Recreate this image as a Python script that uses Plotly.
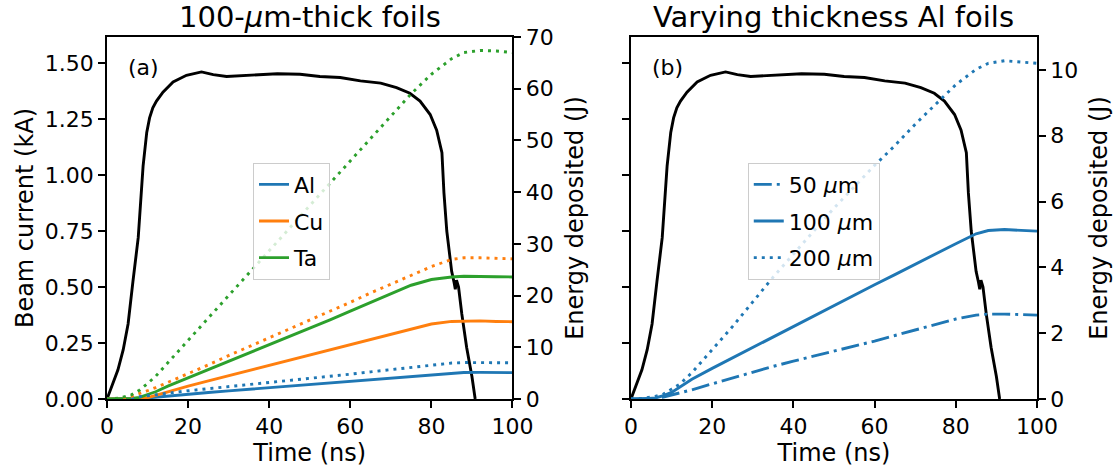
import plotly.graph_objects as go

# ---------------- data ----------------
# Beam current (kA) vs time (ns)
t_beam = [0, 1.5, 2.7, 4.0, 5.2, 6.4, 7.7, 8.9, 9.8, 10.5, 11.3, 12.2, 13.8, 16.3, 19.6, 23.3,
          24.5, 26.2, 29.5, 35.0, 42.0, 47.6, 52.5, 57.5, 62.5, 67.5, 71.4, 74.7, 77.2,
          79.7, 81.3, 82.6, 83.1, 83.8, 85.0, 85.6, 85.9, 86.2, 86.7, 87.5, 88.7, 90.0, 90.8]
beam_kA = [0, 0.07, 0.13, 0.22, 0.335, 0.525, 0.72, 1.04, 1.19, 1.255, 1.30, 1.33, 1.37, 1.415,
           1.445, 1.46, 1.455, 1.448, 1.44, 1.445, 1.452, 1.45, 1.44, 1.435, 1.42, 1.41,
           1.39, 1.365, 1.33, 1.27, 1.20, 1.10, 0.92, 0.75, 0.57, 0.52, 0.49, 0.53, 0.50,
           0.38, 0.23, 0.10, 0.0]

# Energy deposited (J) vs time (ns)
t_energy = [0, 3, 6, 8, 10, 12, 15, 20, 25, 30, 35, 40, 45, 50, 55, 60, 65, 70, 75, 80,
            85, 88, 92, 96, 100]
al_100um = [0, 0, 0.03, 0.1, 0.2, 0.35, 0.6, 0.93, 1.25, 1.57, 1.88, 2.2, 2.52, 2.84, 3.15,
            3.47, 3.78, 4.1, 4.42, 4.72, 5.02, 5.12, 5.15, 5.12, 5.1]
al_dotted = [0, 0.05, 0.25, 0.45, 0.7, 0.9, 1.2, 1.6, 2.0, 2.4, 2.75, 3.1, 3.5, 3.9, 4.35,
             4.8, 5.25, 5.7, 6.15, 6.6, 6.95, 7.05, 7.05, 7.0, 7.0]
cu_solid = [0, 0, 0.02, 0.08, 0.25, 0.7, 1.5, 2.5, 3.5, 4.5, 5.55, 6.55, 7.55, 8.55, 9.55,
            10.55, 11.6, 12.6, 13.6, 14.5, 15.0, 15.1, 15.1, 15.0, 14.95]
cu_dotted = [0, 0.1, 0.5, 1.0, 1.6, 2.2, 3.2, 4.9, 6.6, 8.4, 10.1, 11.8, 13.5, 15.2, 17.0,
             18.7, 20.5, 22.2, 23.9, 25.6, 27.0, 27.3, 27.3, 27.2, 27.1]
ta_solid = [0, 0.02, 0.1, 0.3, 0.8, 1.4, 2.5, 4.1, 5.7, 7.3, 8.9, 10.5, 12.0, 13.6, 15.3,
            17.0, 18.7, 20.4, 22.0, 23.1, 23.6, 23.75, 23.75, 23.65, 23.6]
ta_dotted = [0, 0.2, 0.8, 1.7, 3.0, 4.4, 7.0, 11.3, 15.6, 20.0, 24.3, 28.7, 33.0, 37.4,
             41.7, 46.0, 50.4, 54.8, 59.0, 62.8, 65.8, 67.0, 67.4, 67.3, 67.0]
al_50um = [0, 0, 0.02, 0.06, 0.12, 0.18, 0.28, 0.46, 0.64, 0.82, 0.99, 1.15, 1.3, 1.45,
           1.6, 1.76, 1.93, 2.1, 2.27, 2.43, 2.55, 2.58, 2.58, 2.56, 2.55]
al_200um = [0, 0.02, 0.08, 0.15, 0.3, 0.45, 0.8, 1.5, 2.2, 2.95, 3.7, 4.4, 5.1, 5.8, 6.45,
            7.1, 7.7, 8.35, 8.95, 9.55, 10.02, 10.2, 10.28, 10.25, 10.2]

material_labels = ["Al", "Cu", "Ta"]
thickness_labels = ["50 <i>μ</i>m", "100 <i>μ</i>m", "200 <i>μ</i>m"]
x_ticks = [0, 20, 40, 60, 80, 100]
beam_ticks = [0, 0.25, 0.5, 0.75, 1.0, 1.25, 1.5]
energy_ticks_a = [0, 10, 20, 30, 40, 50, 60, 70]
energy_ticks_b = [0, 2, 4, 6, 8, 10]

BLUE, ORANGE, GREEN = "#1f77b4", "#ff7f0e", "#2ca02c"
FONT = "DejaVu Sans"
LW = 2.9
DOT = "3px,5px"
DASHDOT = "18px,5px,3px,5px"

fig = go.Figure()

# ---- panel (a) ----
fig.add_trace(go.Scatter(x=t_beam, y=beam_kA, mode="lines", line=dict(color="black", width=LW),
                         xaxis="x", yaxis="y", showlegend=False))
for name, ys, col in zip(material_labels, [al_100um, cu_solid, ta_solid], [BLUE, ORANGE, GREEN]):
    fig.add_trace(go.Scatter(x=t_energy, y=ys, mode="lines", name=name, legendgroup=name,
                             line=dict(color=col, width=LW), xaxis="x", yaxis="y2",
                             legend="legend"))
for ys, col in [(al_dotted, BLUE), (cu_dotted, ORANGE), (ta_dotted, GREEN)]:
    fig.add_trace(go.Scatter(x=t_energy, y=ys, mode="lines", showlegend=False,
                             line=dict(color=col, width=LW, dash=DOT), xaxis="x", yaxis="y2"))

# ---- panel (b) ----
fig.add_trace(go.Scatter(x=t_beam, y=beam_kA, mode="lines", line=dict(color="black", width=LW),
                         xaxis="x2", yaxis="y3", showlegend=False))
for name, ys, dash in zip(thickness_labels, [al_50um, al_100um, al_200um], [DASHDOT, "solid", DOT]):
    fig.add_trace(go.Scatter(x=t_energy, y=ys, mode="lines", name=name, legendgroup=name,
                             line=dict(color=BLUE, width=LW, dash=dash),
                             xaxis="x2", yaxis="y4", legend="legend2"))

axis_common = dict(showline=True, linecolor="black", linewidth=1.6, ticks="outside",
                   ticklen=7, tickwidth=1.6, tickcolor="black", showgrid=False,
                   zeroline=False, tickfont=dict(size=22, color="black"),
                   title_font=dict(size=24, color="black"))

D1 = [0, 0.436]
D2 = [0.5634, 1]

legend_common = dict(xanchor="left", yanchor="top", bgcolor="rgba(255,255,255,0.8)",
                     bordercolor="#cccccc", borderwidth=1, tracegroupgap=5,
                     font=dict(size=22, family=FONT, color="black"))

fig.update_layout(
    width=1119, height=474, autosize=False,
    margin=dict(l=107, r=82, t=37, b=75),
    paper_bgcolor="white", plot_bgcolor="white",
    font=dict(family=FONT, color="black"),
    xaxis=dict(domain=D1, range=[0, 100], anchor="y", tickvals=x_ticks, mirror=True,
               title=dict(text="Time (ns)", standoff=5), **axis_common),
    yaxis=dict(domain=[0, 1], range=[0, 1.616], anchor="x", tickvals=beam_ticks,
               tickformat=".2f", title=dict(text="Beam current (kA)", standoff=4),
               **axis_common),
    yaxis2=dict(overlaying="y", side="right", anchor="x", range=[0, 70],
                tickvals=energy_ticks_a, title=dict(text="Energy deposited (J)", standoff=14),
                **axis_common),
    xaxis2=dict(domain=D2, range=[0, 100], anchor="y3", tickvals=x_ticks, mirror=True,
                title=dict(text="Time (ns)", standoff=5), **axis_common),
    yaxis3=dict(domain=[0, 1], range=[0, 1.616], anchor="x2", tickvals=beam_ticks,
                showticklabels=False, **axis_common),
    yaxis4=dict(overlaying="y3", side="right", anchor="x2", range=[0, 11],
                tickvals=energy_ticks_b, title=dict(text="Energy deposited (J)", standoff=13),
                **axis_common),
    legend=dict(x=0.157, y=0.653, entrywidth=72, entrywidthmode="pixels", **legend_common),
    legend2=dict(x=0.689, y=0.653, entrywidth=128, entrywidthmode="pixels", **legend_common),
    annotations=[
        dict(text="100-<i>μ</i>m-thick foils", xref="paper", yref="paper",
             x=sum(D1) / 2, y=1.056, xanchor="center", yanchor="middle", showarrow=False,
             font=dict(size=29, family=FONT, color="black")),
        dict(text="Varying thickness Al foils", xref="paper", yref="paper",
             x=sum(D2) / 2, y=1.056, xanchor="center", yanchor="middle", showarrow=False,
             font=dict(size=29, family=FONT, color="black")),
        dict(text="(a)", xref="x", yref="y", x=9, y=1.48, xanchor="center",
             yanchor="middle", showarrow=False, font=dict(size=22, family=FONT, color="black")),
        dict(text="(b)", xref="x2", yref="y3", x=9, y=1.48, xanchor="center",
             yanchor="middle", showarrow=False, font=dict(size=22, family=FONT, color="black")),
    ],
)

fig.write_html("out.html")
